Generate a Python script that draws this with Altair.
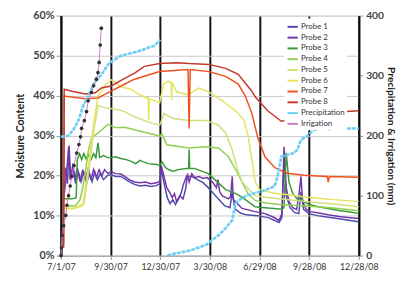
import altair as alt
import pandas as pd

# ---------------- data (days after 2007-07-01) ----------------
p1_days = [5,10,14,17,22,27,32,37,42,47,52,57,62,67,72,78,85,92,100,110,117,125,135,145,155,165,175,181,184,190,195,200,205,210,215,220,225,230,240,250,260,270,280,290,300,310,314,318,320,330,340,360,380,395,400,405,409,413,420,428,436,440,445,455,470,490,510,530,546]
p1_vals = [14,20,27,19,22,18,21,18.5,21,18,20.5,18.5,21,19,20.5,19,20,20.3,19.8,19.8,19.2,18.5,17.8,17.4,17.6,17.3,17.5,18.0,21.5,17.5,14.5,13.0,14.0,12.8,14.0,15.5,18.0,19.8,19.8,19.0,18.3,17.0,15.5,14,12.5,12,16,12.5,11.6,10.6,10.2,10.0,9.5,8.6,8.3,9.5,24,15,12,10.8,10.5,16,11.5,10.5,10.0,9.6,9.2,8.8,8.5]

p2_days = [5,8,12,15,18,22,26,30,35,40,45,50,55,60,65,70,75,80,86,92,100,110,117,125,135,145,155,165,175,181,184,189,194,199,204,208,212,218,224,229,232,235,240,245,253,260,268,278,285,288,291,296,307,311,314,316,320,332,356,374,390,400,405,409,413,418,425,432,437,440,443,450,458,470,490,510,530,546]
p2_vals = [15,22,18,27.5,19,23,19,22,18.5,21.5,19,22,19,21.5,19.5,21.5,20,21.5,20.5,21.0,20.5,20.4,19.8,19.0,18.4,18.2,18.4,18.0,18.2,18.6,22.5,19.8,17,15.9,14.5,15.5,13.5,15,14.2,17,20.5,18.4,20.5,19.5,19.8,19.3,19.5,18.4,17,19,16,14.9,14.2,14.8,19.8,14,13.5,11.8,11.0,10.5,9.6,8.8,10.5,27.2,17,13.5,12,11.5,16,19.8,13.5,11.5,11.0,10.7,10.2,9.8,9.5,9.3]

p3_days = [5,20,28,30,34,38,42,46,50,55,60,64,68,71,78,86,92,100,110,120,130,137,145,150,160,176,181,185,192,199,206,215,230,234,235,236,245,260,270,278,290,302,315,325,340,356,374,390,405,409,413,418,425,433,440,445,455,470,490,510,530,546]
p3_vals = [14.2,14.2,14.5,24,25.5,24,25.5,24.2,25.2,24,25.5,24.5,28.2,24.5,25,24.5,24.5,24.7,24.3,24.0,23.5,23.0,23.8,23.5,23.0,22.8,22.5,23.5,22,21.4,21.1,21.5,21.8,21.8,26.5,21.8,21.8,21.0,20.5,19.5,18,16.5,15.8,15.2,13.8,12.2,12.0,11.8,11.6,12,25.7,18.4,15.5,14.2,14.5,13.5,12.8,12.3,11.8,11.3,10.9,10.5]

p4_days = [5,27,35,40,45,50,56,68,86,100,117,140,176,181,185,194,235,266,289,307,320,332,343,356,374,400,450,500,546]
p4_vals = [12.5,12.5,14,17,21,26,29.5,30.6,32.8,32.0,32.1,31.3,30.1,29.8,30.5,27.7,26.9,27.2,26.9,24.7,21.6,18.4,15.5,13.8,13.2,12.8,12.4,11.9,11.2]

p5_days = [5,30,42,52,60,68,80,92,104,117,130,145,158,170,181,189,206,235,266,289,302,314,325,332,343,356,374,400,450,500,546]
p5_vals = [12.2,12.2,13,22,31,37.5,37.0,36.8,36.5,36.0,35.0,34.2,33.5,33.0,32.6,35.5,34.3,33.8,33.8,32.6,30.6,26.4,21.0,18.5,16.8,15.0,14.6,14.2,13.5,12.9,12.2]

p6_days = [5,25,40,50,60,68,80,92,100,110,128,145,158,160,161,162,181,188,197,202,203,204,212,233,253,271,296,320,335,343,350,356,364,391,418,445,476,500,546]
p6_vals = [11.8,11.8,12.5,22,33,39.9,42.5,44.0,43.3,42.2,41.6,40.2,39.4,39.4,33.8,39.2,38.2,42.9,43.6,43.3,39,43.3,40.9,40.2,41.9,40.9,38.7,36.2,34,30,24,18.5,16.5,15.6,15.2,14.7,14.3,14.0,13.5]

p7_days = [5,6,45,68,92,117,135,181,233,235,237,271,302,325,338,350,361,374,392,415,445,488,490,492,546]
p7_vals = [3,39.9,39.2,39.4,41.1,42.9,44.1,46.0,46.5,31.8,46.5,46.0,44.8,42.9,39.9,35.5,29.4,24.7,22.0,20.6,20.1,19.8,18.4,19.8,19.6]

p8_days = [5,6,20,45,63,74,92,117,135,153,181,212,235,271,302,325,350,356,379,404,427,463,490,492,494,546]
p8_vals = [2,41.6,41.1,40.4,40.7,41.9,42.4,44.3,45.6,47.3,48.0,48.2,48.0,47.8,46.8,45.3,41.1,39.7,36.2,33.6,34.3,35.0,35.8,31.3,35.8,36.2]

precip_days = [0,14,23,32,41,50,59,68,77,86,95,110,122,140,150,158,172,180,182,
               195,206,235,266,289,302,314,320,332,343,374,392,397,404,427,433,440,451,463,476,546]
precip_vals = [198,200,210,225,250,265,285,295,305,318,325,333,336,340,343,346,350,358,360,
               0,3,8,18,34,46,59,87,96,101,109,116,132,165,171,176,193,199,209,212,212]
precip_seg = [1]*19 + [2]*21

irr_days = [0,1,2,5,9,11,14,17,20,24,29,33,36,38,43,47,50,56,60,65,68,70,72,74]
irr_vals = [0,13,34,50,67,84,100,116,132,150,171,185,198,212,225,240,258,272,283,294,305,322,351,379]

probe_names = ["Probe 1","Probe 2","Probe 3","Probe 4","Probe 5","Probe 6","Probe 7","Probe 8"]
all_names = probe_names + ["Precipitation","Irrigation"]
colors = ["#4b4bb0","#7336a8","#3a9a3a","#92d050","#cfe07a","#e6e35c","#f0501e","#c5372a","#6ccdf2","#c77fc4"]

x_ticks = ["2007-07-01","2007-09-30","2007-12-30","2008-03-30","2008-06-29","2008-09-28","2008-12-28"]

start = pd.Timestamp("2007-07-01")
def to_dates(days):
    return [start + pd.Timedelta(days=d) for d in days]

rows = []
for name, d, v in zip(probe_names,
                      [p1_days,p2_days,p3_days,p4_days,p5_days,p6_days,p7_days,p8_days],
                      [p1_vals,p2_vals,p3_vals,p4_vals,p5_vals,p6_vals,p7_vals,p8_vals]):
    for dt_, val in zip(to_dates(d), v):
        rows.append({"date": dt_, "value": val, "series": name})
probes = pd.DataFrame(rows)
precip = pd.DataFrame({"date": to_dates(precip_days), "mm": precip_vals, "seg": precip_seg,
                       "series": "Precipitation"})
irr = pd.DataFrame({"date": to_dates(irr_days), "mm": irr_vals, "series": "Irrigation"})

FONT = "Lato"
def dt(s):
    y, m, d = map(int, s.split("-"))
    return alt.DateTime(year=y, month=m, date=d)

xenc = alt.X("date:T",
             scale=alt.Scale(domain=[dt(x_ticks[0]), dt(x_ticks[-1])]),
             axis=alt.Axis(values=[dt(s) for s in x_ticks], format="%-m/%-d/%y",
                           grid=True, gridColor="#111", gridWidth=2,
                           domainColor="#999", tickColor="#999", tickSize=4,
                           labelFontSize=9, labelColor="#333", labelPadding=3,
                           labelOverlap=False, labelFlush=False,
                           title=None, labelFont=FONT))

color = alt.Color("series:N", scale=alt.Scale(domain=all_names, range=colors),
                  legend=alt.Legend(title=None, orient="none", legendX=228, legendY=3,
                                    symbolType="stroke", symbolStrokeWidth=2, symbolSize=110,
                                    labelFontSize=8, labelFont=FONT, labelColor="#333",
                                    rowPadding=-1.5, padding=2, fillColor="white",
                                    labelOffset=2))

probe_layer = alt.Chart(probes).mark_line(strokeWidth=1.5).encode(
    x=xenc,
    y=alt.Y("value:Q", scale=alt.Scale(domain=[0, 60]),
            axis=alt.Axis(values=[0,10,20,30,40,50,60], labelExpr="datum.value + '%'",
                          title="Moisture Content", titleFontWeight="bold", titleFontSize=11,
                          titleFont=FONT, titleColor="#222", titlePadding=7,
                          labelFont=FONT, labelFontSize=11, labelFontWeight="bold",
                          labelColor="#444",
                          grid=True, gridColor="#c8c8c8", gridWidth=1,
                          domainColor="#111", domainWidth=2, tickColor="#999", tickSize=5)),
    color=color,
    detail="series:N",
)

yright = alt.Y("mm:Q", scale=alt.Scale(domain=[0, 400]),
               axis=alt.Axis(orient="right", values=[0,100,200,300,400],
                             title="Precipitation & Irrigation (mm)", titleFontWeight="bold",
                             titleFontSize=10.5, titleFont=FONT, titleColor="#222", titlePadding=2,
                             labelFont=FONT, labelFontSize=10.5, labelFontWeight="bold",
                             labelColor="#444", labelPadding=3,
                             grid=False, domainColor="#111", domainWidth=2,
                             tickColor="#999", tickSize=4))

precip_layer = alt.Chart(precip).mark_line(strokeWidth=2.6, strokeDash=[4, 1]).encode(
    x=xenc, y=yright, color=color, detail="seg:N")

irr_line = alt.Chart(irr).mark_line(strokeWidth=1).encode(
    x=xenc, y=alt.Y("mm:Q", scale=alt.Scale(domain=[0, 400]), axis=None), color=color)
irr_pts = alt.Chart(irr).mark_point(filled=True, size=14, color="#333", opacity=1).encode(
    x=xenc, y=alt.Y("mm:Q", scale=alt.Scale(domain=[0, 400]), axis=None))

chart = alt.layer(probe_layer, precip_layer, irr_line, irr_pts).resolve_scale(
    y="independent").properties(
    width=304, height=245,
    autosize=alt.AutoSizeParams(type="none"),
    padding={"left": 54, "right": 40, "top": 5, "bottom": 17},
).configure_view(stroke=None).configure(background="white")

chart.save("out.html", embed_options={"renderer": "svg", "actions": False})
